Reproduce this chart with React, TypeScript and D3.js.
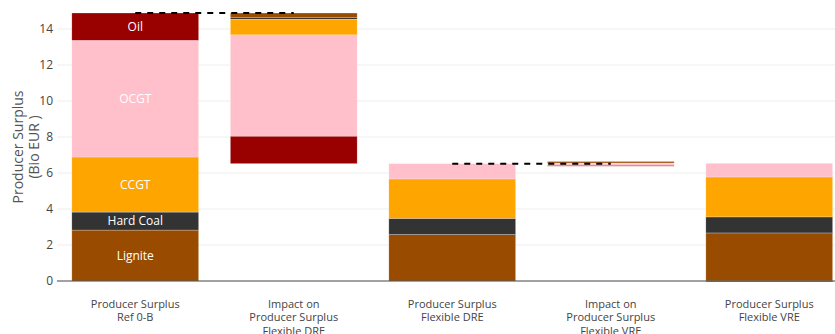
import React from "react";
import * as d3 from "d3";

const categories = [
  "Producer Surplus|Ref 0-B",
  "Impact on|Producer Surplus|Flexible DRE",
  "Producer Surplus|Flexible DRE",
  "Impact on|Producer Surplus|Flexible VRE",
  "Producer Surplus|Flexible VRE",
];
const barKinds = ["total", "impact", "total", "impact", "total"];
const fuels = ["Lignite", "Hard Coal", "CCGT", "OCGT", "Oil"];
const fuelColors = ["#994c00", "#333333", "#ffa500", "#ffc0cb", "#990000"];

const refValues = [2.83, 1.0, 3.06, 6.48, 1.52];
const impactDRE = [-0.25, -0.1, -0.87, -5.63, -1.52];
const dreValues = [2.58, 0.9, 2.19, 0.85, 0];
const impactVRE = [0.09, -0.01, 0.03, -0.09, -0.04];
const vreValues = [2.67, 0.89, 2.22, 0.76, -0.04];
const seriesByBar = [refValues, impactDRE, dreValues, impactVRE, vreValues];

const yTicks = [0, 2, 4, 6, 8, 10, 12, 14];
const labelledBar = 0;

const W = 835;
const H = 334;

export default function App() {
  const x = d3
    .scaleBand<string>()
    .domain(categories)
    .range([56, 848.5])
    .paddingInner(0.2)
    .paddingOuter(0.1);
  const y = d3.scaleLinear().domain([0, 14.89]).range([281, 13]);

  const totals = seriesByBar.map((s) => d3.sum(s));
  type Seg = { bar: number; fuel: number; y0: number; y1: number };
  const segs: Seg[] = [];
  const barTotals: number[] = [];
  let prevTotal = 0;
  seriesByBar.forEach((vals, b) => {
    if (barKinds[b] === "total") {
      let pos = 0;
      let neg = 0;
      vals.forEach((v, f) => {
        if (v >= 0) {
          segs.push({ bar: b, fuel: f, y0: pos, y1: pos + v });
          pos += v;
        } else {
          segs.push({ bar: b, fuel: f, y0: neg + v, y1: neg });
          neg += v;
        }
      });
      prevTotal = totals[b];
      barTotals.push(prevTotal);
    } else {
      const top = prevTotal + d3.sum(vals.filter((v) => v > 0));
      let cur = top;
      vals.forEach((v, f) => {
        const h = Math.abs(v);
        segs.push({ bar: b, fuel: f, y0: cur - h, y1: cur });
        cur -= h;
      });
      prevTotal = prevTotal + totals[b];
      barTotals.push(prevTotal);
    }
  });

  const connectors: { x1: number; x2: number; v: number }[] = [];
  seriesByBar.forEach((_, b) => {
    if (barKinds[b] === "total" && b + 1 < categories.length && barKinds[b + 1] === "impact") {
      const c1 = (x(categories[b]) as number) + x.bandwidth() / 2;
      const c2 = (x(categories[b + 1]) as number) + x.bandwidth() / 2;
      connectors.push({ x1: c1, x2: c2, v: barTotals[b] });
    }
  });

  const font = "'Open Sans', verdana, arial, sans-serif";

  return (
    <svg
      width={W}
      height={H}
      style={{ position: "absolute", left: 0, top: 0, background: "#fff" }}
      fontFamily={font}
    >
      <g>
        {yTicks.slice(1).map((t) => (
          <line
            key={"g" + t}
            x1={57}
            x2={W}
            y1={y(t)}
            y2={y(t)}
            stroke="#eeeeee"
            strokeWidth={1}
          />
        ))}
      </g>
      <g>
        {segs.map((s, i) => (
          <rect
            key={i}
            x={x(categories[s.bar]) as number}
            width={x.bandwidth()}
            y={y(s.y1)}
            height={Math.max(0, y(s.y0) - y(s.y1))}
            fill={fuelColors[s.fuel]}
            stroke="rgba(255,255,255,0.5)"
            strokeWidth={0.5}
          />
        ))}
      </g>
      <g>
        {segs
          .filter((s) => s.bar === labelledBar)
          .map((s, i) => (
            <text
              key={"t" + i}
              x={(x(categories[s.bar]) as number) + x.bandwidth() / 2}
              y={(y(s.y0) + y(s.y1)) / 2}
              dy="0.35em"
              textAnchor="middle"
              fill="#ffffff"
              fontSize={12}
            >
              {fuels[s.fuel]}
            </text>
          ))}
      </g>
      <g>
        {connectors.map((c, i) => (
          <line
            key={"c" + i}
            x1={c.x1}
            x2={c.x2}
            y1={y(c.v)}
            y2={y(c.v)}
            stroke="#000"
            strokeWidth={2}
            strokeDasharray="6,6"
          />
        ))}
      </g>
      <line x1={57} x2={W} y1={y(0)} y2={y(0)} stroke="#444" strokeWidth={1} />
      <g>
        {yTicks.map((t) => (
          <text
            key={"yt" + t}
            x={53}
            y={y(t)}
            dy="0.35em"
            textAnchor="end"
            fill="#444"
            fontSize={12}
          >
            {t}
          </text>
        ))}
      </g>
      <g>
        {categories.map((c) => {
          const cx = (x(c) as number) + x.bandwidth() / 2;
          return (
            <text key={c} x={cx} y={304} textAnchor="middle" fill="#444" fontSize={11}>
              {c.split("|").map((line, i) => (
                <tspan key={i} x={cx} y={304 + i * 13.5} dy="0.35em">
                  {line}
                </tspan>
              ))}
            </text>
          );
        })}
      </g>
      <text
        transform="translate(18,147) rotate(-90)"
        textAnchor="middle"
        fill="#555"
        fontSize={14}
      >
        <tspan x={0} y={0} dy="0.35em">Producer Surplus</tspan>
        <tspan x={0} y={16} dy="0.35em">(Bio EUR )</tspan>
      </text>
    </svg>
  );
}
